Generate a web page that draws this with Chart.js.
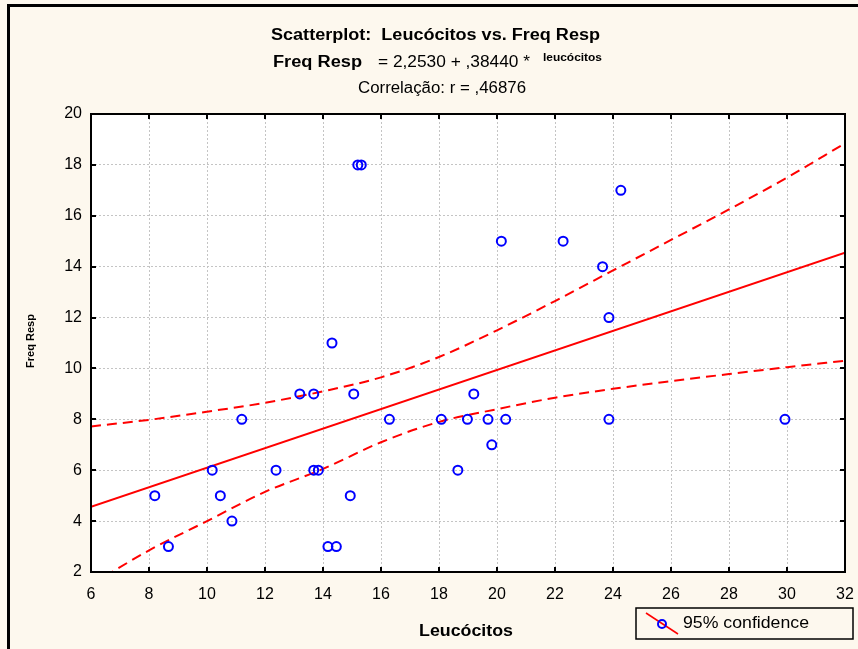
<!DOCTYPE html>
<html>
<head>
<meta charset="utf-8">
<script src="https://cdn.jsdelivr.net/npm/chart.js@4"></script>
<style>
  html, body { margin: 0; padding: 0; background: #fdf8ee; }
  #c { display: block; }
</style>
</head>
<body>
<canvas id="c" width="858" height="649"></canvas>
<script>
// scatter data
const leucocitos = [8.2, 8.67, 10.18, 10.46, 10.86, 11.2, 12.38, 13.2, 13.68, 13.68, 13.84, 14.17, 14.46, 14.31,
  14.94, 15.06, 15.2, 15.32, 16.29, 18.08, 18.65, 18.98, 19.2, 19.69, 19.82, 20.15, 20.3, 22.28, 23.64, 23.86,
  23.86, 24.27, 29.93];
const freqResp = [5, 3, 6, 5, 4, 8, 6, 9, 9, 6, 6, 3, 3, 11,
  5, 9, 18, 18, 8, 8, 6, 8, 9, 8, 7, 15, 8, 15, 14, 12,
  8, 17, 8];

// regression line end points
const fitX = [6, 32];
const fitY = [4.56, 14.55];

// 95% confidence bands
const bandX = [6, 8, 10, 12, 14, 16, 18, 20, 22, 24, 26, 28, 30, 32];
const upperBand = [7.72, 7.98, 8.3, 8.65, 9.1, 9.65, 10.45, 11.5, 12.65, 13.85, 15.05, 16.25, 17.5, 18.85];
const lowerBand = [1.5, 2.85, 4.0, 5.15, 6.05, 7.1, 7.9, 8.4, 8.85, 9.2, 9.5, 9.78, 10.05, 10.3];

const xTicks = [6, 8, 10, 12, 14, 16, 18, 20, 22, 24, 26, 28, 30, 32];
const yTicks = [2, 4, 6, 8, 10, 12, 14, 16, 18, 20];

const toPts = (xs, ys) => xs.map((x, i) => ({ x, y: ys[i] }));
const FONT = '"Liberation Sans", Arial, sans-serif';
const CREAM = '#fdf8ee';

// draws text squeezed/stretched horizontally to span [left, left+width]
function fitText(ctx, text, font, left, width, cy) {
  ctx.font = font;
  const w = ctx.measureText(text).width;
  ctx.save();
  ctx.translate(left, cy);
  ctx.scale(width / w, 1);
  ctx.textAlign = 'left';
  ctx.textBaseline = 'middle';
  ctx.fillText(text, 0, 0);
  ctx.restore();
}

const decor = {
  id: 'decor',
  beforeDraw(chart) {
    const { ctx, chartArea: a } = chart;
    ctx.save();
    ctx.fillStyle = CREAM;
    ctx.fillRect(0, 0, chart.width, chart.height);
    ctx.fillStyle = '#ffffff';
    ctx.fillRect(a.left, a.top, a.right - a.left, a.bottom - a.top);
    ctx.restore();
  },
  afterDraw(chart) {
    const { ctx, chartArea: a } = chart;
    const xs = chart.scales.x, ys = chart.scales.y;
    ctx.save();
    // outer border (top + left)
    ctx.strokeStyle = '#000';
    ctx.lineWidth = 3;
    ctx.beginPath();
    ctx.moveTo(8.5, 649); ctx.lineTo(8.5, 5.5); ctx.lineTo(858, 5.5);
    ctx.stroke();

    // plot frame
    ctx.lineWidth = 2;
    ctx.strokeRect(a.left, a.top, a.right - a.left, a.bottom - a.top);

    // inward ticks on all sides
    ctx.beginPath();
    xTicks.forEach(v => {
      const px = Math.round(xs.getPixelForValue(v));
      ctx.moveTo(px, a.bottom); ctx.lineTo(px, a.bottom - 5);
      ctx.moveTo(px, a.top); ctx.lineTo(px, a.top + 5);
    });
    yTicks.forEach(v => {
      const py = Math.round(ys.getPixelForValue(v));
      ctx.moveTo(a.left, py); ctx.lineTo(a.left + 5, py);
      ctx.moveTo(a.right, py); ctx.lineTo(a.right - 5, py);
    });
    ctx.stroke();

    // titles
    ctx.fillStyle = '#000';
    fitText(ctx, 'Scatterplot:  Leucócitos vs. Freq Resp', 'bold 16px ' + FONT, 271, 329, 36);
    fitText(ctx, 'Freq Resp', 'bold 16px ' + FONT, 273, 89, 63);
    fitText(ctx, '= 2,2530 + ,38440 *', '16px ' + FONT, 378, 152, 63);
    fitText(ctx, 'leucócitos', 'bold 10px ' + FONT, 543, 59, 58);
    fitText(ctx, 'Correlação: r = ,46876', '16px ' + FONT, 358, 168, 89);

    // axis titles
    fitText(ctx, 'Leucócitos', 'bold 17px ' + FONT, 419, 94, 631);
    ctx.save();
    ctx.translate(31, 341);
    ctx.rotate(-Math.PI / 2);
    fitText(ctx, 'Freq Resp', 'bold 10px ' + FONT, -27, 54, 0);
    ctx.restore();

    // legend box
    ctx.fillStyle = CREAM;
    ctx.fillRect(636, 608, 217, 31);
    ctx.strokeStyle = '#000';
    ctx.lineWidth = 1.5;
    ctx.strokeRect(636, 608, 217, 31);
    ctx.strokeStyle = '#ff0000';
    ctx.beginPath();
    ctx.moveTo(646, 613); ctx.lineTo(678, 634);
    ctx.stroke();
    ctx.strokeStyle = '#0000ff';
    ctx.lineWidth = 2;
    ctx.beginPath();
    ctx.arc(662, 624, 4, 0, Math.PI * 2);
    ctx.stroke();
    ctx.fillStyle = '#000';
    fitText(ctx, '95% confidence', '16px ' + FONT, 683, 126, 624);
    ctx.restore();
  }
};

new Chart(document.getElementById('c'), {
  type: 'scatter',
  data: {
    datasets: [
      {
        label: 'Freq Resp',
        data: toPts(leucocitos, freqResp),
        pointStyle: 'circle',
        pointRadius: 4.5,
        pointBorderWidth: 2,
        pointBorderColor: '#0000ff',
        pointBackgroundColor: 'rgba(0,0,0,0)'
      },
      {
        label: 'fit',
        data: toPts(fitX, fitY),
        showLine: true,
        pointRadius: 0,
        borderColor: '#ff0000',
        borderWidth: 2
      },
      {
        label: 'upper',
        data: toPts(bandX, upperBand),
        showLine: true,
        pointRadius: 0,
        borderColor: '#ff0000',
        borderWidth: 2,
        borderDash: [10, 6],
        cubicInterpolationMode: 'monotone'
      },
      {
        label: 'lower',
        data: toPts(bandX, lowerBand),
        showLine: true,
        pointRadius: 0,
        borderColor: '#ff0000',
        borderWidth: 2,
        borderDash: [10, 6],
        cubicInterpolationMode: 'monotone'
      }
    ]
  },
  options: {
    responsive: false,
    animation: false,
    layout: { padding: { left: 10, top: 114, right: 13, bottom: 0 } },
    plugins: { legend: { display: false }, tooltip: { enabled: false } },
    scales: {
      x: {
        type: 'linear', min: 6, max: 32,
        afterFit: s => { s.height = 77; s.paddingLeft = 0; s.paddingRight = 0; },
        afterBuildTicks: s => { s.ticks = xTicks.map(v => ({ value: v })); },
        ticks: { color: '#000', padding: 13, font: { family: FONT, size: 16 } },
        grid: { color: '#c4c4c4', drawTicks: false, lineWidth: 1 },
        border: { display: false, dash: [2, 2] }
      },
      y: {
        type: 'linear', min: 2, max: 20,
        afterFit: s => { s.width = 81; s.paddingTop = 0; s.paddingBottom = 0; },
        afterBuildTicks: s => { s.ticks = yTicks.map(v => ({ value: v })); },
        ticks: { color: '#000', padding: 9, font: { family: FONT, size: 16 } },
        grid: { color: '#c4c4c4', drawTicks: false, lineWidth: 1 },
        border: { display: false, dash: [2, 2] }
      }
    }
  },
  plugins: [decor]
});
</script>
</body>
</html>
